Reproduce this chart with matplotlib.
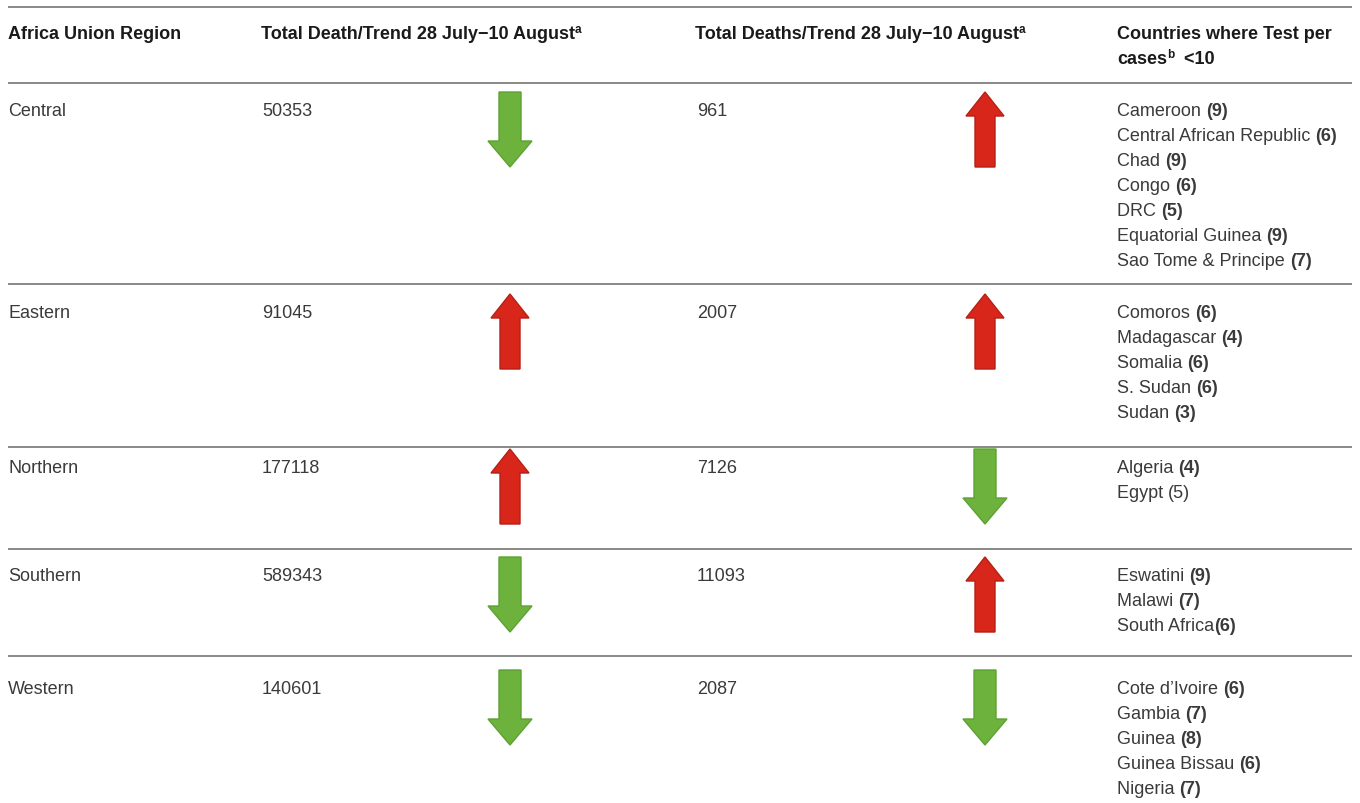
import matplotlib
matplotlib.use("Agg")
import matplotlib.pyplot as plt

# --- Table data ---
regions = ["Central", "Eastern", "Northern", "Southern", "Western"]
total_cases = [50353, 91045, 177118, 589343, 140601]
case_trend = ["down", "up", "up", "down", "down"]
total_deaths = [961, 2007, 7126, 11093, 2087]
death_trend = ["up", "up", "down", "up", "down"]

central_countries = ["Cameroon", "Central African Republic", "Chad", "Congo",
                     "DRC", "Equatorial Guinea", "Sao Tome & Principe"]
central_tests = [9, 6, 9, 6, 5, 9, 7]
eastern_countries = ["Comoros", "Madagascar", "Somalia", "S. Sudan", "Sudan"]
eastern_tests = [6, 4, 6, 6, 3]
northern_countries = ["Algeria", "Egypt"]
northern_tests = [4, 5]
southern_countries = ["Eswatini", "Malawi", "South Africa"]
southern_tests = [9, 7, 6]
western_countries = ["Cote d\u2019Ivoire", "Gambia", "Guinea", "Guinea Bissau", "Nigeria"]
western_tests = [6, 7, 8, 6, 7]

countries = [central_countries, eastern_countries, northern_countries,
             southern_countries, western_countries]
tests = [central_tests, eastern_tests, northern_tests, southern_tests, western_tests]
not_bold = {"Egypt"}          # value printed in regular weight in the source
no_space = {"South Africa"}   # value printed without a space in the source

# --- Layout (pixels) ---
FS = 13
SUP = 8.5
FONT = "Liberation Sans"
TXT = "#3a3a3a"
HDR = "#1a1a1a"
LINE = "#808080"
col_x = [8, 261, 695, 1117]
arrow_x = [510, 985]
row_y = [110, 312, 467, 575, 688]
sep_y = [8, 84, 285, 448, 550, 657]
line_h = 25
base = 6  # baseline offset from the text centre

fig = plt.figure(figsize=(13.6, 8.04), dpi=100)
ax = fig.add_axes([0, 0, 1, 1])
ax.set_xlim(0, 1360)
ax.set_ylim(804, 0)
ax.axis("off")
renderer = fig.canvas.get_renderer()


def draw_runs(x, y, runs, color):
    """Draw consecutive text pieces on one baseline."""
    for text, weight, size, rise in runs:
        t = ax.text(x, y - rise, text, fontsize=size, fontweight=weight,
                    family=FONT, color=color, va="baseline", ha="left")
        x += t.get_window_extent(renderer).width
    return x


def draw_arrow(x, yc, trend):
    top, bottom = yc - 17, yc + 58
    if trend == "down":
        ax.arrow(x, top, 0, bottom - top, width=22, head_width=44, head_length=26,
                 length_includes_head=True, fc="#6cb23c", ec="#5da233", lw=1)
    else:
        ax.arrow(x, bottom, 0, top - bottom, width=20, head_width=38, head_length=24,
                 length_includes_head=True, fc="#d8261b", ec="#b52016", lw=1)


# --- Horizontal rules ---
for y in sep_y:
    ax.plot([8, 1352], [y, y], color=LINE, lw=1.3, solid_capstyle="butt")

# --- Header ---
hy = 33 + base
draw_runs(col_x[0], hy, [("Africa Union Region", "bold", FS, 0)], HDR)
draw_runs(col_x[1], hy, [("Total Death/Trend 28 July\u221210 August", "bold", FS, 0),
                         ("a", "bold", SUP, 6)], HDR)
draw_runs(col_x[2], hy, [("Total Deaths/Trend 28 July\u221210 August", "bold", FS, 0),
                         ("a", "bold", SUP, 6)], HDR)
draw_runs(col_x[3], hy, [("Countries where Test per", "bold", FS, 0)], HDR)
draw_runs(col_x[3], hy + line_h, [("cases", "bold", FS, 0), ("b", "bold", SUP, 6),
                                  ("  <10", "bold", FS, 0)], HDR)

# --- Body ---
for i, region in enumerate(regions):
    y = row_y[i] + base
    draw_runs(col_x[0], y, [(region, "normal", FS, 0)], TXT)
    draw_runs(col_x[1] + 1, y, [(str(total_cases[i]), "normal", FS, 0)], TXT)
    draw_runs(col_x[2] + 2, y, [(str(total_deaths[i]), "normal", FS, 0)], TXT)
    draw_arrow(arrow_x[0], row_y[i], case_trend[i])
    draw_arrow(arrow_x[1], row_y[i], death_trend[i])
    for j, (name, val) in enumerate(zip(countries[i], tests[i])):
        gap = "" if name in no_space else " "
        weight = "normal" if name in not_bold else "bold"
        draw_runs(col_x[3], y + j * line_h,
                  [(name + gap, "normal", FS, 0), (f"({val})", weight, FS, 0)], TXT)

fig.savefig("out.png", dpi=100, facecolor="white")
